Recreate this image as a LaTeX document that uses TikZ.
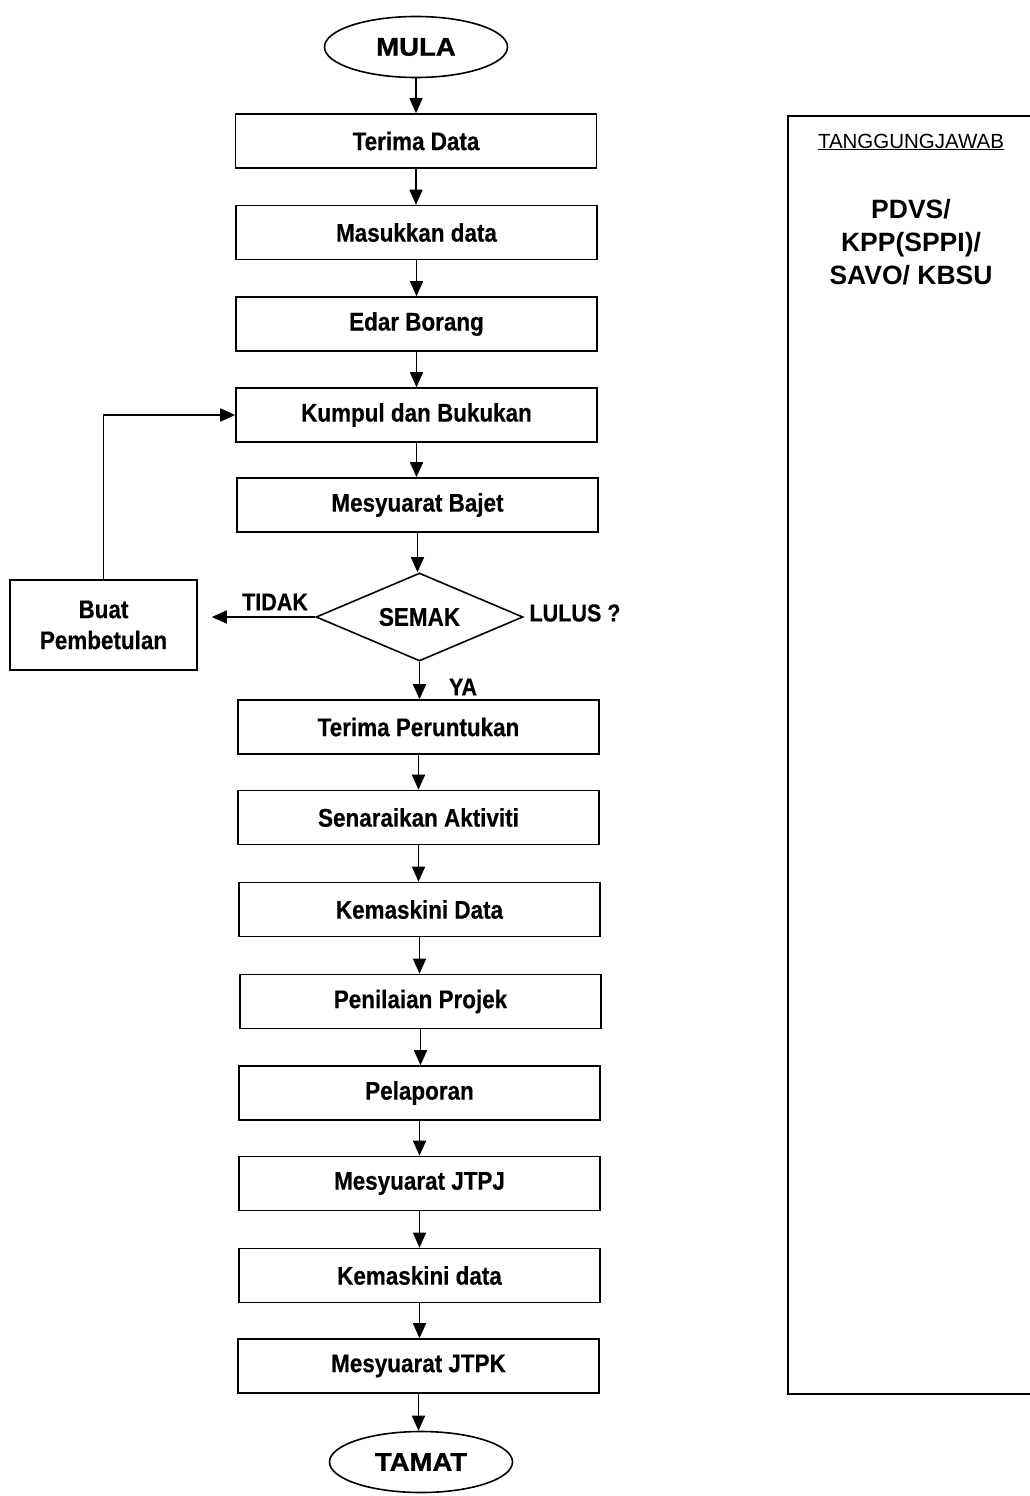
\documentclass[tikz,border=0pt]{standalone}
\usepackage{fontspec}
\setmainfont{Liberation Sans}
\newfontfamily\nb{Liberation Sans}[FakeStretch=0.88,FakeBold=0.4]
\newfontfamily\heavy{Liberation Sans}[FakeStretch=1.08,FakeBold=1]
\usetikzlibrary{arrows.meta,shapes.geometric}
\begin{document}
\begin{tikzpicture}[x=1pt,y=-1pt,line width=1.6pt,
  proc/.style={draw,rectangle,minimum width=361pt,minimum height=54pt,inner sep=0pt,
    font=\fontsize{25.5}{28}\selectfont\nb\bfseries},
  term/.style={draw,ellipse,minimum width=183pt,minimum height=61pt,inner sep=0pt,
    font=\fontsize{25.5}{28}\selectfont\heavy\bfseries},
  dec/.style={draw,diamond,aspect=2.35,minimum width=207pt,minimum height=88pt,inner sep=0pt,
    font=\fontsize{25.5}{28}\selectfont\nb\bfseries},
  lbl/.style={inner sep=0pt,font=\fontsize{24.5}{27}\selectfont\nb\bfseries},
  arr/.style={-{Triangle[length=15pt,width=13pt]}}]
\useasboundingbox (0,0) rectangle (1030,1496);
\fill[white] (0,0) rectangle (1030,1496);

\node[term] (mula) at (416,47) {MULA};
\node[proc] (t1) at (416,141) {Terima Data};
\node[proc] (t2) at (416.5,232.5) {Masukkan data};
\node[proc] (t3) at (416.5,324) {Edar Borang};
\node[proc] (t4) at (416.5,415) {Kumpul dan Bukukan};
\node[proc] (t5) at (417.5,505) {Mesyuarat Bajet};
\node[dec] (semak) at (419.5,617) {SEMAK};
\node[proc,minimum width=187pt,minimum height=90pt,align=center,
  font=\fontsize{25.5}{31}\selectfont\nb\bfseries] (buat) at (103.5,625) {Buat\\Pembetulan};
\node[proc] (t6) at (418.5,727) {Terima Peruntukan};
\node[proc] (t7) at (418.5,817.5) {Senaraikan Aktiviti};
\node[proc] (t8) at (419.5,909.5) {Kemaskini Data};
\node[proc] (t9) at (420.5,1001.5) {Penilaian Projek};
\node[proc] (t10) at (419.5,1093) {Pelaporan};
\node[proc] (t11) at (419.5,1183.5) {Mesyuarat JTPJ};
\node[proc] (t12) at (419.5,1275.5) {Kemaskini data};
\node[proc] (t13) at (418.5,1366) {Mesyuarat JTPK};
\node[term] (tamat) at (421,1462) {TAMAT};

\node[lbl] (tidak) at (275,602) {TIDAK};
\node[lbl] (lulus) at (575,613) {LULUS ?};
\node[lbl] (ya) at (463,687) {YA};

\draw[arr] (mula.south) -- (mula.south |- t1.north);
\draw[arr] (t1.south) -- (t1.south |- t2.north);
\draw[arr] (t2.south) -- (t2.south |- t3.north);
\draw[arr] (t3.south) -- (t3.south |- t4.north);
\draw[arr] (t4.south) -- (t4.south |- t5.north);
\draw[arr] (t5.south) -- (t5.south |- semak.north);
\draw[arr] (semak.south) -- (semak.south |- t6.north);
\draw[arr] (t6.south) -- (t6.south |- t7.north);
\draw[arr] (t7.south) -- (t7.south |- t8.north);
\draw[arr] (t8.south) -- (t8.south |- t9.north);
\draw[arr] (t9.south) -- (t9.south |- t10.north);
\draw[arr] (t10.south) -- (t10.south |- t11.north);
\draw[arr] (t11.south) -- (t11.south |- t12.north);
\draw[arr] (t12.south) -- (t12.south |- t13.north);
\draw[arr] (t13.south) -- (t13.south |- tamat.north);
\draw[arr,shorten >=14pt] (semak.west) -- (semak.west -| buat.east);
\draw[arr] (buat.north) |- (t4.west);

% responsibility panel
\coordinate (rtl) at (788,116);
\coordinate (rbl) at (788,1394);
\draw[line width=1.7pt] (1030,116) -- (rtl) -- (rbl) -- (1030,1394);
\node[inner sep=0pt,font=\fontsize{20.5}{24}\selectfont] (tj) at (911,142) {\underline{TANGGUNGJAWAB}};
\node[inner sep=0pt,align=center,font=\fontsize{26.5}{33}\selectfont\bfseries] (resp) at (911,242)
  {PDVS/\\KPP(SPPI)/\\SAVO/ KBSU};
\end{tikzpicture}
\end{document}
